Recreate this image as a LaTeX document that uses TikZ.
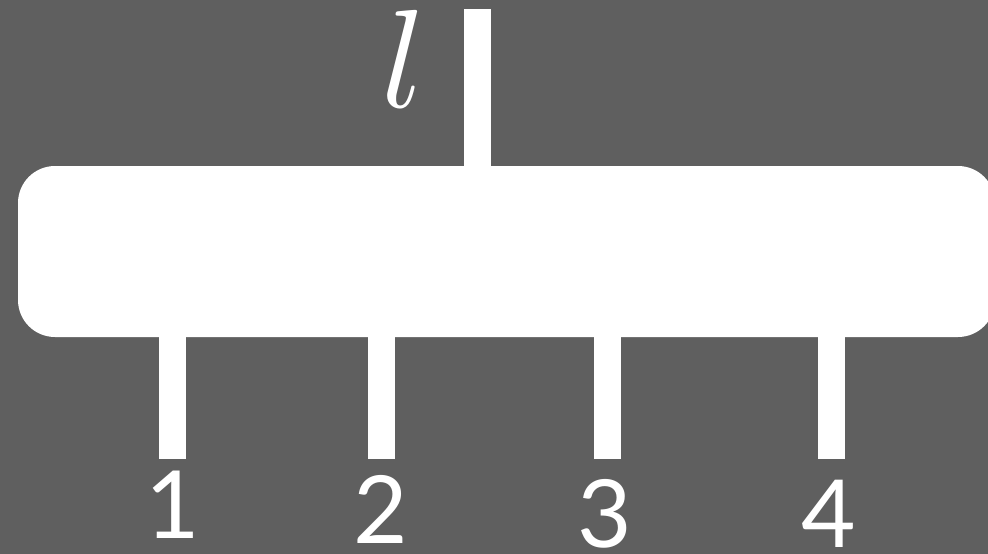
\documentclass[tikz,border=0pt]{standalone}
\usepackage{fontspec}
\newfontfamily\numfont{Lato}
\definecolor{bg}{HTML}{5F5F5F}
\begin{document}
\begin{tikzpicture}[x=1pt,y=-1pt,
  leg/.style={draw=white,line width=27pt,line cap=butt},
  num/.style={text=white,font=\numfont\fontsize{94}{94}\selectfont,anchor=base,inner sep=0pt}]
\fill[bg] (0,0) rectangle (988,554);
\useasboundingbox (0,0) rectangle (988,554);
\node (box) [fill=white,rounded corners=37pt,minimum width=977pt,minimum height=171pt,inner sep=0pt] at (506.5,251.5) {};
\coordinate (t) at (477.5,9);
\draw[leg] (t) -- (t |- box.north);
\coordinate (b1) at (172.5,459);
\coordinate (b2) at (381.5,459);
\coordinate (b3) at (607.5,459);
\coordinate (b4) at (831.5,459);
\foreach \i in {1,2,3,4}{\draw[leg] (b\i |- box.south) -- (b\i);}
\node (lab) [text=white,anchor=base,inner sep=0pt] at (404,107) {\scalebox{14}{$l$}};
\node (n1) [num] at (173,538) {1};
\node (n2) [num] at (381,543) {2};
\node (n3) [num] at (605,547) {3};
\node (n4) [num] at (829,547) {4};
\end{tikzpicture}
\end{document}
